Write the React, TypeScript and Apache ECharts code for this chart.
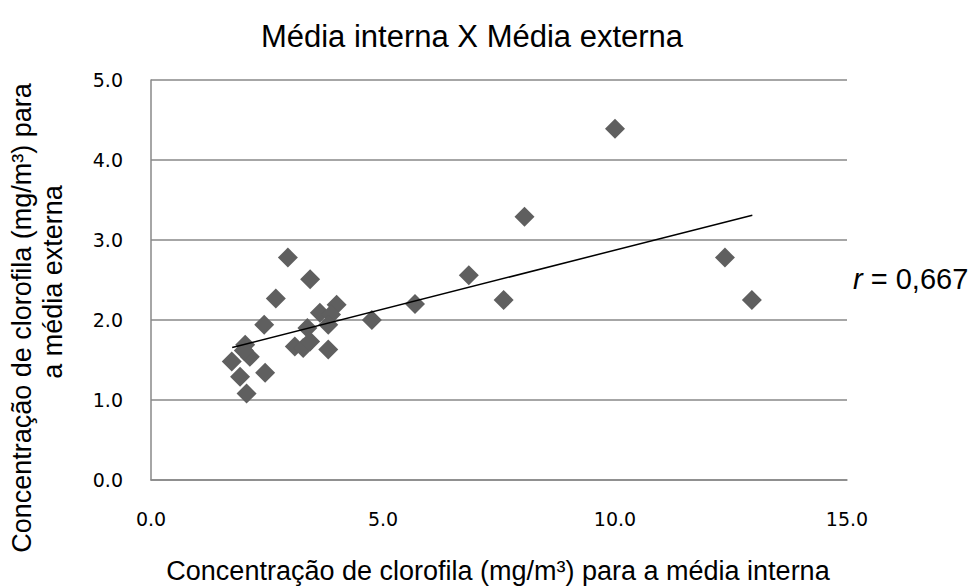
import React, { useEffect, useRef } from "react";
import * as echarts from "echarts";

const pointsX = [10.0, 8.05, 6.85, 7.6, 12.37, 12.95, 4.76, 5.69, 2.95, 2.69, 2.44, 2.03, 2.13, 1.74, 1.92, 2.46, 2.06, 2.0, 3.43, 4.0, 3.64, 3.88, 3.82, 3.37, 3.1, 3.28, 3.43, 3.82];
const pointsY = [4.39, 3.29, 2.56, 2.25, 2.78, 2.25, 2.0, 2.2, 2.78, 2.27, 1.94, 1.69, 1.54, 1.48, 1.29, 1.34, 1.08, 1.62, 2.51, 2.19, 2.09, 2.07, 1.94, 1.9, 1.67, 1.65, 1.73, 1.63];
const trendX = [1.75, 12.96];
const trendY = [1.656, 3.31];

const titleText = "Média interna X Média externa";
const xTitle = "Concentração de clorofila (mg/m³) para a média interna";
const yTitleLine1 = "Concentração de clorofila (mg/m³) para";
const yTitleLine2 = "a média externa";
const rText = "0,667";

export default function App() {
  const ref = useRef<HTMLDivElement>(null);
  useEffect(() => {
    if (!ref.current) return;
    const chart = echarts.init(ref.current, null, { renderer: "svg" });
    const font = "'Liberation Sans', Arial, sans-serif";
    const tickFont = "'DejaVu Sans', sans-serif";
    chart.setOption({
      animation: false,
      backgroundColor: "#ffffff",
      grid: { left: 151, right: 126, top: 80, bottom: 107, outerBoundsMode: "none", containLabel: false },
      xAxis: {
        type: "value",
        min: 0,
        max: 15,
        interval: 5,
        axisLine: { show: true, lineStyle: { color: "#888", width: 1.5 } },
        axisTick: { show: false },
        splitLine: { show: false },
        axisLabel: {
          formatter: (v: number) => v.toFixed(1),
          fontFamily: tickFont,
          fontSize: 19,
          color: "#000",
          margin: 29,
        },
      },
      yAxis: {
        type: "value",
        min: 0,
        max: 5,
        interval: 1,
        axisLine: { show: true, lineStyle: { color: "#888", width: 1.5 } },
        axisTick: { show: false },
        splitLine: { show: true, lineStyle: { color: "#888", width: 1.5 } },
        axisLabel: {
          formatter: (v: number) => v.toFixed(1),
          fontFamily: tickFont,
          fontSize: 19,
          color: "#000",
          margin: 28,
        },
      },
      graphic: [
        {
          type: "text",
          x: 472,
          y: 36,
          style: {
            text: titleText,
            font: "31px 'Liberation Sans', Arial, sans-serif",
            fill: "#000",
            align: "center",
            verticalAlign: "middle",
          },
        },
        {
          type: "text",
          x: 498,
          y: 571,
          style: {
            text: xTitle,
            font: "27px 'Liberation Sans', Arial, sans-serif",
            fill: "#000",
            align: "center",
            verticalAlign: "middle",
          },
        },
        {
          type: "text",
          x: 22,
          y: 318,
          rotation: Math.PI / 2,
          style: {
            text: yTitleLine1,
            font: "27px 'Liberation Sans', Arial, sans-serif",
            fill: "#000",
            align: "center",
            verticalAlign: "middle",
          },
        },
        {
          type: "text",
          x: 53,
          y: 282,
          rotation: Math.PI / 2,
          style: {
            text: yTitleLine2,
            font: "27px 'Liberation Sans', Arial, sans-serif",
            fill: "#000",
            align: "center",
            verticalAlign: "middle",
          },
        },
        {
          type: "text",
          x: 853,
          y: 279,
          style: {
            text: "{i|r} = " + rText,
            rich: {
              i: { fontFamily: font, fontSize: 29, fontStyle: "italic", fill: "#000" },
            },
            font: "29px 'Liberation Sans', Arial, sans-serif",
            fill: "#000",
            align: "left",
            verticalAlign: "middle",
          },
        },
      ],
      series: [
        {
          type: "scatter",
          symbol: "diamond",
          symbolSize: 20,
          itemStyle: { color: "#5f5f5f", opacity: 1 },
          data: pointsX.map((x, i) => [x, pointsY[i]]),
          z: 2,
        },
        {
          type: "line",
          data: trendX.map((x, i) => [x, trendY[i]]),
          symbol: "none",
          lineStyle: { color: "#000", width: 1.5 },
          z: 3,
        },
      ],
    });
    return () => chart.dispose();
  }, []);
  return <div ref={ref} style={{ width: 973, height: 587, position: "absolute", left: 0, top: 0 }} />;
}
